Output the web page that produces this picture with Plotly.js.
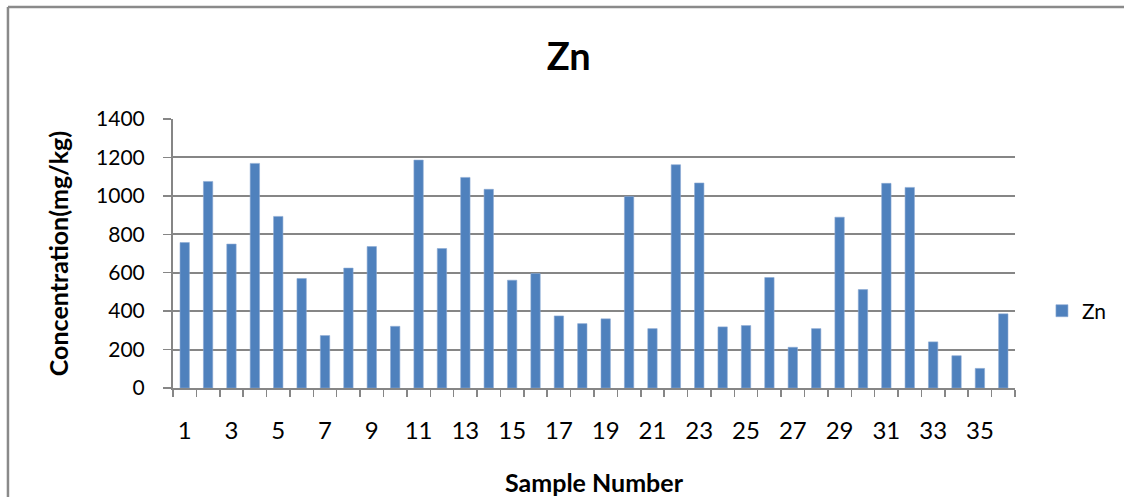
<!DOCTYPE html>
<html>
<head>
<meta charset="utf-8">
<script src="https://cdn.plot.ly/plotly-3.0.1.min.js"></script>
<style>
html,body{margin:0;padding:0;background:#fff;overflow:hidden;}
#chart{width:1124px;height:497px;}
</style>
</head>
<body>
<div id="chart"></div>
<script>
const samples = [1,2,3,4,5,6,7,8,9,10,11,12,13,14,15,16,17,18,19,20,21,22,23,24,25,26,27,28,29,30,31,32,33,34,35,36];
const znValues = [757,1075,749,1169,893,570,273,624,736,321,1186,726,1096,1034,561,596,375,335,360,997,309,1162,1067,318,325,575,212,309,889,512,1065,1044,240,168,102,386];
const xTickVals = [1,3,5,7,9,11,13,15,17,19,21,23,25,27,29,31,33,35];
const xTickText = xTickVals.map(String);
const yTickVals = [0,200,400,600,800,1000,1200,1400];

const grey = '#868686';
const font = 'Lato, "Open Sans", sans-serif';

const trace = {
  type: 'bar',
  name: 'Zn',
  x: samples,
  y: znValues,
  marker: {color: '#4F81BD', line: {color: '#8BAAD4', width: 0.6}},
  hoverinfo: 'x+y'
};

const borderStyle = {color: '#8a8a8a', width: 2.5};

const layout = {
  width: 1124,
  height: 497,
  margin: {l: 173, r: 109, t: 119, b: 109},
  paper_bgcolor: '#ffffff',
  plot_bgcolor: '#ffffff',
  bargap: 0.6,
  showlegend: true,
  font: {family: font, color: '#000'},
  title: {
    text: '<b>Zn</b>',
    font: {family: font, size: 38, color: '#000'},
    x: 0.47, xref: 'paper', xanchor: 'center',
    y: 0.885, yref: 'container', yanchor: 'middle'
  },
  legend: {
    x: 1.032, xanchor: 'left',
    y: 0.286, yanchor: 'middle',
    font: {family: font, size: 21, color: '#000'},
    bgcolor: 'rgba(0,0,0,0)'
  },
  xaxis: {
    range: [0.5, 36.5],
    tickmode: 'array',
    tickvals: xTickVals,
    ticktext: xTickText,
    ticks: 'outside',
    ticklen: 20,
    tickcolor: 'rgba(0,0,0,0)',
    tickfont: {family: font, size: 24, color: '#000'},
    showgrid: false,
    zeroline: false,
    showline: true,
    linecolor: grey,
    linewidth: 2,
    minor: {
      tickmode: 'linear', tick0: 0.5, dtick: 1,
      ticks: 'outside', ticklen: 7, tickcolor: grey, tickwidth: 1.5,
      showgrid: false
    },
    title: {
      text: '<b>Sample Number</b>',
      font: {family: font, size: 25, color: '#000'},
      standoff: 34
    },
    fixedrange: true
  },
  yaxis: {
    range: [0, 1400],
    tickmode: 'array',
    tickvals: yTickVals,
    ticks: 'outside',
    ticklen: 8,
    tickcolor: grey,
    tickwidth: 1.5,
    ticklabelstandoff: 14,
    tickfont: {family: font, size: 21, color: '#000'},
    showgrid: true,
    gridcolor: grey,
    gridwidth: 2,
    zeroline: false,
    showline: true,
    linecolor: grey,
    linewidth: 2,
    title: {
      text: '<b>Concentration(mg/kg)</b>',
      font: {family: font, size: 25, color: '#000'},
      standoff: 20
    },
    fixedrange: true
  },
  shapes: [
    {type: 'line', xref: 'paper', yref: 'paper',
     x0: -0.196, x1: -0.196, y0: -0.5, y1: 1.416, line: borderStyle, layer: 'below'},
    {type: 'line', xref: 'paper', yref: 'paper',
     x0: -0.196, x1: 1.2, y0: 1.416, y1: 1.416, line: borderStyle, layer: 'below'}
  ]
};

Plotly.newPlot('chart', [trace], layout, {displayModeBar: false, staticPlot: true});
</script>
</body>
</html>
